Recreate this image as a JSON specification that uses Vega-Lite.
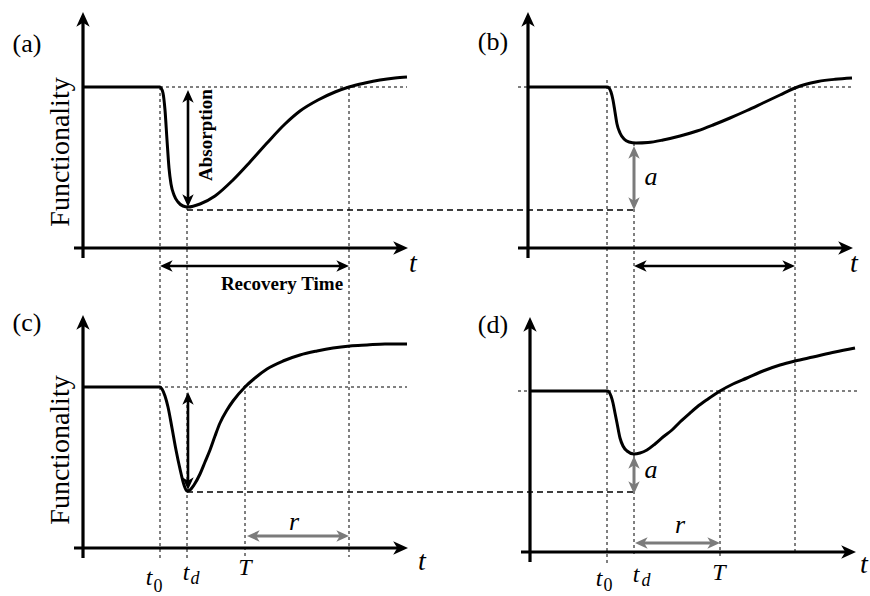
{
  "$schema": "https://vega.github.io/schema/vega-lite/v6.json",
  "width": 870,
  "height": 596,
  "autosize": {"type": "none"},
  "padding": 0,
  "background": "white",
  "config": {"view": {"stroke": null}},
  "datasets": {
    "curves": [
      {"panel": "a", "t": 83, "f": 87}, {"panel": "a", "t": 160, "f": 87}, {"panel": "a", "t": 161, "f": 88},
      {"panel": "a", "t": 163, "f": 93}, {"panel": "a", "t": 165, "f": 110}, {"panel": "a", "t": 167, "f": 140},
      {"panel": "a", "t": 169, "f": 168}, {"panel": "a", "t": 171, "f": 184}, {"panel": "a", "t": 174, "f": 195},
      {"panel": "a", "t": 178, "f": 202}, {"panel": "a", "t": 183, "f": 206}, {"panel": "a", "t": 188, "f": 207},
      {"panel": "a", "t": 200, "f": 204}, {"panel": "a", "t": 215, "f": 196}, {"panel": "a", "t": 233, "f": 180},
      {"panel": "a", "t": 250, "f": 162}, {"panel": "a", "t": 267, "f": 143}, {"panel": "a", "t": 285, "f": 124},
      {"panel": "a", "t": 300, "f": 111}, {"panel": "a", "t": 318, "f": 100}, {"panel": "a", "t": 335, "f": 92},
      {"panel": "a", "t": 349, "f": 87}, {"panel": "a", "t": 365, "f": 83}, {"panel": "a", "t": 380, "f": 80},
      {"panel": "a", "t": 395, "f": 78}, {"panel": "a", "t": 407, "f": 77},

      {"panel": "b", "t": 528, "f": 87}, {"panel": "b", "t": 607, "f": 87}, {"panel": "b", "t": 609, "f": 88},
      {"panel": "b", "t": 611, "f": 92}, {"panel": "b", "t": 613, "f": 100}, {"panel": "b", "t": 615, "f": 112},
      {"panel": "b", "t": 617, "f": 124}, {"panel": "b", "t": 620, "f": 133}, {"panel": "b", "t": 624, "f": 139},
      {"panel": "b", "t": 629, "f": 142}, {"panel": "b", "t": 636, "f": 143}, {"panel": "b", "t": 648, "f": 142.5},
      {"panel": "b", "t": 663, "f": 140}, {"panel": "b", "t": 680, "f": 136}, {"panel": "b", "t": 697, "f": 131},
      {"panel": "b", "t": 713, "f": 125}, {"panel": "b", "t": 730, "f": 118}, {"panel": "b", "t": 747, "f": 110.5},
      {"panel": "b", "t": 763, "f": 103}, {"panel": "b", "t": 780, "f": 95}, {"panel": "b", "t": 795, "f": 88},
      {"panel": "b", "t": 805, "f": 84.5}, {"panel": "b", "t": 818, "f": 81.5}, {"panel": "b", "t": 835, "f": 79.3},
      {"panel": "b", "t": 852, "f": 78},

      {"panel": "c", "t": 83, "f": 387}, {"panel": "c", "t": 160, "f": 387}, {"panel": "c", "t": 162, "f": 389},
      {"panel": "c", "t": 165, "f": 396}, {"panel": "c", "t": 168, "f": 407}, {"panel": "c", "t": 172, "f": 428},
      {"panel": "c", "t": 176, "f": 450}, {"panel": "c", "t": 180, "f": 469}, {"panel": "c", "t": 184, "f": 485},
      {"panel": "c", "t": 187, "f": 491}, {"panel": "c", "t": 190, "f": 490}, {"panel": "c", "t": 194, "f": 485},
      {"panel": "c", "t": 200, "f": 474}, {"panel": "c", "t": 205, "f": 462}, {"panel": "c", "t": 210, "f": 450},
      {"panel": "c", "t": 215, "f": 436}, {"panel": "c", "t": 220, "f": 423}, {"panel": "c", "t": 227, "f": 410},
      {"panel": "c", "t": 233, "f": 401}, {"panel": "c", "t": 245, "f": 387}, {"panel": "c", "t": 255, "f": 378},
      {"panel": "c", "t": 267, "f": 369}, {"panel": "c", "t": 283, "f": 361}, {"panel": "c", "t": 300, "f": 355},
      {"panel": "c", "t": 317, "f": 351}, {"panel": "c", "t": 333, "f": 348}, {"panel": "c", "t": 350, "f": 346},
      {"panel": "c", "t": 367, "f": 345}, {"panel": "c", "t": 385, "f": 344}, {"panel": "c", "t": 407, "f": 344},

      {"panel": "d", "t": 530, "f": 391}, {"panel": "d", "t": 607, "f": 391}, {"panel": "d", "t": 609, "f": 392},
      {"panel": "d", "t": 611, "f": 396}, {"panel": "d", "t": 613, "f": 403}, {"panel": "d", "t": 615, "f": 413},
      {"panel": "d", "t": 617, "f": 423}, {"panel": "d", "t": 620, "f": 438}, {"panel": "d", "t": 623, "f": 446},
      {"panel": "d", "t": 627, "f": 451}, {"panel": "d", "t": 634, "f": 454}, {"panel": "d", "t": 640, "f": 453},
      {"panel": "d", "t": 647, "f": 450}, {"panel": "d", "t": 655, "f": 444}, {"panel": "d", "t": 663, "f": 437},
      {"panel": "d", "t": 672, "f": 430}, {"panel": "d", "t": 680, "f": 422}, {"panel": "d", "t": 690, "f": 413},
      {"panel": "d", "t": 697, "f": 407}, {"panel": "d", "t": 708, "f": 399}, {"panel": "d", "t": 720, "f": 391},
      {"panel": "d", "t": 733, "f": 384}, {"panel": "d", "t": 747, "f": 378}, {"panel": "d", "t": 763, "f": 371},
      {"panel": "d", "t": 780, "f": 365}, {"panel": "d", "t": 795, "f": 361}, {"panel": "d", "t": 813, "f": 357},
      {"panel": "d", "t": 835, "f": 352}, {"panel": "d", "t": 855, "f": 348}
    ],
    "segments": [
      {"kind": "axis", "x": 83, "y": 20, "x2": 83, "y2": 258},
      {"kind": "axis", "x": 74, "y": 248, "x2": 400, "y2": 248},
      {"kind": "axis", "x": 528, "y": 20, "x2": 528, "y2": 258},
      {"kind": "axis", "x": 518, "y": 248, "x2": 845, "y2": 248},
      {"kind": "axis", "x": 83, "y": 323, "x2": 83, "y2": 558},
      {"kind": "axis", "x": 74, "y": 548, "x2": 400, "y2": 548},
      {"kind": "axis", "x": 530, "y": 325, "x2": 530, "y2": 562},
      {"kind": "axis", "x": 521, "y": 552, "x2": 848, "y2": 552},

      {"kind": "dotted", "x": 160, "y": 87, "x2": 407, "y2": 87},
      {"kind": "dotted", "x": 518, "y": 87, "x2": 852, "y2": 87},
      {"kind": "dotted", "x": 159, "y": 387, "x2": 407, "y2": 387},
      {"kind": "dotted", "x": 518, "y": 391, "x2": 857, "y2": 391},
      {"kind": "dotted", "x": 160, "y": 87, "x2": 160, "y2": 560},
      {"kind": "dotted", "x": 187, "y": 207, "x2": 187, "y2": 560},
      {"kind": "dotted", "x": 349, "y": 87, "x2": 349, "y2": 557},
      {"kind": "dotted", "x": 245, "y": 385, "x2": 245, "y2": 557},
      {"kind": "dotted", "x": 607, "y": 80, "x2": 607, "y2": 563},
      {"kind": "dotted", "x": 634, "y": 143, "x2": 634, "y2": 557},
      {"kind": "dotted", "x": 795, "y": 87, "x2": 795, "y2": 553},
      {"kind": "dotted", "x": 720, "y": 391, "x2": 720, "y2": 557},

      {"kind": "dashed", "x": 187, "y": 210, "x2": 633, "y2": 210},
      {"kind": "dashed", "x": 187, "y": 492, "x2": 633, "y2": 492},

      {"kind": "arrow", "x": 188, "y": 96, "x2": 188, "y2": 201},
      {"kind": "arrow", "x": 166, "y": 266, "x2": 343, "y2": 266},
      {"kind": "arrow", "x": 640, "y": 266, "x2": 789, "y2": 266},
      {"kind": "arrow", "x": 188, "y": 398, "x2": 188, "y2": 484},

      {"kind": "grayarrow", "x": 634, "y": 152, "x2": 634, "y2": 204},
      {"kind": "grayarrow", "x": 253, "y": 536, "x2": 343, "y2": 536},
      {"kind": "grayarrow", "x": 634, "y": 462, "x2": 634, "y2": 488},
      {"kind": "grayarrow", "x": 641, "y": 543, "x2": 714, "y2": 543}
    ],
    "heads": [
      {"kind": "axis", "x": 83, "y": 12, "dir": 0},
      {"kind": "axis", "x": 408, "y": 248, "dir": 90},
      {"kind": "axis", "x": 528, "y": 12, "dir": 0},
      {"kind": "axis", "x": 853, "y": 248, "dir": 90},
      {"kind": "axis", "x": 83, "y": 315, "dir": 0},
      {"kind": "axis", "x": 408, "y": 548, "dir": 90},
      {"kind": "axis", "x": 530, "y": 317, "dir": 0},
      {"kind": "axis", "x": 856, "y": 552, "dir": 90},

      {"kind": "arrow", "x": 188, "y": 90, "dir": 0},
      {"kind": "arrow", "x": 188, "y": 207, "dir": 180},
      {"kind": "arrow", "x": 160, "y": 266, "dir": 270},
      {"kind": "arrow", "x": 349, "y": 266, "dir": 90},
      {"kind": "arrow", "x": 634, "y": 266, "dir": 270},
      {"kind": "arrow", "x": 795, "y": 266, "dir": 90},
      {"kind": "arrow", "x": 188, "y": 392, "dir": 0},
      {"kind": "arrow", "x": 188, "y": 490, "dir": 180},

      {"kind": "grayarrow", "x": 634, "y": 146, "dir": 0},
      {"kind": "grayarrow", "x": 634, "y": 210, "dir": 180},
      {"kind": "grayarrow", "x": 247, "y": 536, "dir": 270},
      {"kind": "grayarrow", "x": 349, "y": 536, "dir": 90},
      {"kind": "grayarrow", "x": 634, "y": 456, "dir": 0},
      {"kind": "grayarrow", "x": 634, "y": 494, "dir": 180},
      {"kind": "grayarrow", "x": 635, "y": 543, "dir": 270},
      {"kind": "grayarrow", "x": 720, "y": 543, "dir": 90}
    ],
    "labels": [
      {"kind": "panel", "x": 27, "y": 52, "text": "(a)"},
      {"kind": "panel", "x": 493, "y": 50, "text": "(b)"},
      {"kind": "panel", "x": 27, "y": 331, "text": "(c)"},
      {"kind": "panel", "x": 493, "y": 333, "text": "(d)"},
      {"kind": "ylabel", "x": 69, "y": 152, "text": "Functionality"},
      {"kind": "ylabel", "x": 69, "y": 450, "text": "Functionality"},
      {"kind": "boldv", "x": 212, "y": 135, "text": "Absorption"},
      {"kind": "bold", "x": 282, "y": 290, "text": "Recovery Time"},
      {"kind": "axisvar", "x": 413, "y": 272, "text": "t"},
      {"kind": "axisvar", "x": 854, "y": 272, "text": "t"},
      {"kind": "axisvar", "x": 422, "y": 570, "text": "t"},
      {"kind": "axisvar", "x": 864, "y": 573, "text": "t"},
      {"kind": "var", "x": 651, "y": 185, "text": "a"},
      {"kind": "var", "x": 651, "y": 478, "text": "a"},
      {"kind": "var", "x": 294, "y": 530, "text": "r"},
      {"kind": "var", "x": 680, "y": 533, "text": "r"},
      {"kind": "tick", "x": 149, "y": 585, "text": "t"},
      {"kind": "tick", "x": 186, "y": 580, "text": "t"},
      {"kind": "tick", "x": 245, "y": 575, "text": "T"},
      {"kind": "tick", "x": 599, "y": 586, "text": "t"},
      {"kind": "tick", "x": 636, "y": 582, "text": "t"},
      {"kind": "tick", "x": 719, "y": 580, "text": "T"},
      {"kind": "subnum", "x": 158, "y": 592, "text": "0"},
      {"kind": "subnum", "x": 608, "y": 591, "text": "0"},
      {"kind": "subvar", "x": 195, "y": 584, "text": "d"},
      {"kind": "subvar", "x": 646, "y": 586, "text": "d"}
    ]
  },
  "layer": [
    {
      "data": {"name": "segments"},
      "transform": [{"filter": "datum.kind === 'dotted'"}],
      "mark": {"type": "rule", "color": "black", "strokeWidth": 1, "strokeDash": [3, 3]},
      "encoding": {
        "x": {"field": "x", "type": "quantitative", "scale": {"domain": [0, 870], "nice": false, "zero": false}, "axis": null},
        "y": {"field": "y", "type": "quantitative", "scale": {"domain": [0, 596], "nice": false, "zero": false, "reverse": true}, "axis": null},
        "x2": {"field": "x2"},
        "y2": {"field": "y2"}
      }
    },
    {
      "data": {"name": "segments"},
      "transform": [{"filter": "datum.kind === 'dashed'"}],
      "mark": {"type": "rule", "color": "black", "strokeWidth": 1.6, "strokeDash": [6, 4]},
      "encoding": {
        "x": {"field": "x", "type": "quantitative", "axis": null},
        "y": {"field": "y", "type": "quantitative", "axis": null},
        "x2": {"field": "x2"},
        "y2": {"field": "y2"}
      }
    },
    {
      "data": {"name": "curves"},
      "mark": {"type": "line", "color": "black", "strokeWidth": 3, "interpolate": "monotone"},
      "encoding": {
        "x": {"field": "t", "type": "quantitative", "axis": null},
        "y": {"field": "f", "type": "quantitative", "axis": null},
        "detail": {"field": "panel"}
      }
    },
    {
      "data": {"name": "segments"},
      "transform": [{"filter": "datum.kind === 'axis'"}],
      "mark": {"type": "rule", "color": "black", "strokeWidth": 3.2},
      "encoding": {
        "x": {"field": "x", "type": "quantitative", "axis": null},
        "y": {"field": "y", "type": "quantitative", "axis": null},
        "x2": {"field": "x2"},
        "y2": {"field": "y2"}
      }
    },
    {
      "data": {"name": "segments"},
      "transform": [{"filter": "datum.kind === 'arrow'"}],
      "mark": {"type": "rule", "color": "black", "strokeWidth": 2.6},
      "encoding": {
        "x": {"field": "x", "type": "quantitative", "axis": null},
        "y": {"field": "y", "type": "quantitative", "axis": null},
        "x2": {"field": "x2"},
        "y2": {"field": "y2"}
      }
    },
    {
      "data": {"name": "segments"},
      "transform": [{"filter": "datum.kind === 'grayarrow'"}],
      "mark": {"type": "rule", "color": "#7b7b7b", "strokeWidth": 3},
      "encoding": {
        "x": {"field": "x", "type": "quantitative", "axis": null},
        "y": {"field": "y", "type": "quantitative", "axis": null},
        "x2": {"field": "x2"},
        "y2": {"field": "y2"}
      }
    },
    {
      "data": {"name": "heads"},
      "transform": [{"filter": "datum.kind === 'axis'"}],
      "mark": {"type": "point", "shape": "M0,0L0.9,2L0,1.45L-0.9,2Z", "filled": true, "color": "black", "size": 220, "strokeWidth": 0, "opacity": 1},
      "encoding": {
        "x": {"field": "x", "type": "quantitative", "axis": null},
        "y": {"field": "y", "type": "quantitative", "axis": null},
        "angle": {"field": "dir", "type": "quantitative", "scale": null}
      }
    },
    {
      "data": {"name": "heads"},
      "transform": [{"filter": "datum.kind === 'arrow'"}],
      "mark": {"type": "point", "shape": "M0,0L0.9,2L0,1.45L-0.9,2Z", "filled": true, "color": "black", "size": 160, "strokeWidth": 0, "opacity": 1},
      "encoding": {
        "x": {"field": "x", "type": "quantitative", "axis": null},
        "y": {"field": "y", "type": "quantitative", "axis": null},
        "angle": {"field": "dir", "type": "quantitative", "scale": null}
      }
    },
    {
      "data": {"name": "heads"},
      "transform": [{"filter": "datum.kind === 'grayarrow'"}],
      "mark": {"type": "point", "shape": "M0,0L0.9,2L0,1.45L-0.9,2Z", "filled": true, "color": "#7b7b7b", "size": 160, "strokeWidth": 0, "opacity": 1},
      "encoding": {
        "x": {"field": "x", "type": "quantitative", "axis": null},
        "y": {"field": "y", "type": "quantitative", "axis": null},
        "angle": {"field": "dir", "type": "quantitative", "scale": null}
      }
    },
    {
      "data": {"name": "labels"},
      "transform": [{"filter": "datum.kind === 'panel'"}],
      "mark": {"type": "text", "font": "Liberation Serif", "fontSize": 26, "align": "center", "baseline": "alphabetic", "color": "black"},
      "encoding": {
        "x": {"field": "x", "type": "quantitative", "axis": null},
        "y": {"field": "y", "type": "quantitative", "axis": null},
        "text": {"field": "text"}
      }
    },
    {
      "data": {"name": "labels"},
      "transform": [{"filter": "datum.kind === 'ylabel'"}],
      "mark": {"type": "text", "font": "Liberation Serif", "fontSize": 28, "angle": 270, "align": "center", "baseline": "alphabetic", "color": "black"},
      "encoding": {
        "x": {"field": "x", "type": "quantitative", "axis": null},
        "y": {"field": "y", "type": "quantitative", "axis": null},
        "text": {"field": "text"}
      }
    },
    {
      "data": {"name": "labels"},
      "transform": [{"filter": "datum.kind === 'boldv'"}],
      "mark": {"type": "text", "font": "Liberation Serif", "fontSize": 19, "fontWeight": "bold", "angle": 270, "align": "center", "baseline": "alphabetic", "color": "black"},
      "encoding": {
        "x": {"field": "x", "type": "quantitative", "axis": null},
        "y": {"field": "y", "type": "quantitative", "axis": null},
        "text": {"field": "text"}
      }
    },
    {
      "data": {"name": "labels"},
      "transform": [{"filter": "datum.kind === 'bold'"}],
      "mark": {"type": "text", "font": "Liberation Serif", "fontSize": 19, "fontWeight": "bold", "align": "center", "baseline": "alphabetic", "color": "black"},
      "encoding": {
        "x": {"field": "x", "type": "quantitative", "axis": null},
        "y": {"field": "y", "type": "quantitative", "axis": null},
        "text": {"field": "text"}
      }
    },
    {
      "data": {"name": "labels"},
      "transform": [{"filter": "datum.kind === 'axisvar'"}],
      "mark": {"type": "text", "font": "Liberation Serif", "fontSize": 28, "fontStyle": "italic", "align": "center", "baseline": "alphabetic", "color": "black"},
      "encoding": {
        "x": {"field": "x", "type": "quantitative", "axis": null},
        "y": {"field": "y", "type": "quantitative", "axis": null},
        "text": {"field": "text"}
      }
    },
    {
      "data": {"name": "labels"},
      "transform": [{"filter": "datum.kind === 'var'"}],
      "mark": {"type": "text", "font": "Liberation Serif", "fontSize": 26, "fontStyle": "italic", "align": "center", "baseline": "alphabetic", "color": "black"},
      "encoding": {
        "x": {"field": "x", "type": "quantitative", "axis": null},
        "y": {"field": "y", "type": "quantitative", "axis": null},
        "text": {"field": "text"}
      }
    },
    {
      "data": {"name": "labels"},
      "transform": [{"filter": "datum.kind === 'tick'"}],
      "mark": {"type": "text", "font": "Liberation Serif", "fontSize": 24, "fontStyle": "italic", "align": "center", "baseline": "alphabetic", "color": "black"},
      "encoding": {
        "x": {"field": "x", "type": "quantitative", "axis": null},
        "y": {"field": "y", "type": "quantitative", "axis": null},
        "text": {"field": "text"}
      }
    },
    {
      "data": {"name": "labels"},
      "transform": [{"filter": "datum.kind === 'subnum'"}],
      "mark": {"type": "text", "font": "Liberation Serif", "fontSize": 18, "align": "center", "baseline": "alphabetic", "color": "black"},
      "encoding": {
        "x": {"field": "x", "type": "quantitative", "axis": null},
        "y": {"field": "y", "type": "quantitative", "axis": null},
        "text": {"field": "text"}
      }
    },
    {
      "data": {"name": "labels"},
      "transform": [{"filter": "datum.kind === 'subvar'"}],
      "mark": {"type": "text", "font": "Liberation Serif", "fontSize": 18, "fontStyle": "italic", "align": "center", "baseline": "alphabetic", "color": "black"},
      "encoding": {
        "x": {"field": "x", "type": "quantitative", "axis": null},
        "y": {"field": "y", "type": "quantitative", "axis": null},
        "text": {"field": "text"}
      }
    }
  ]
}
